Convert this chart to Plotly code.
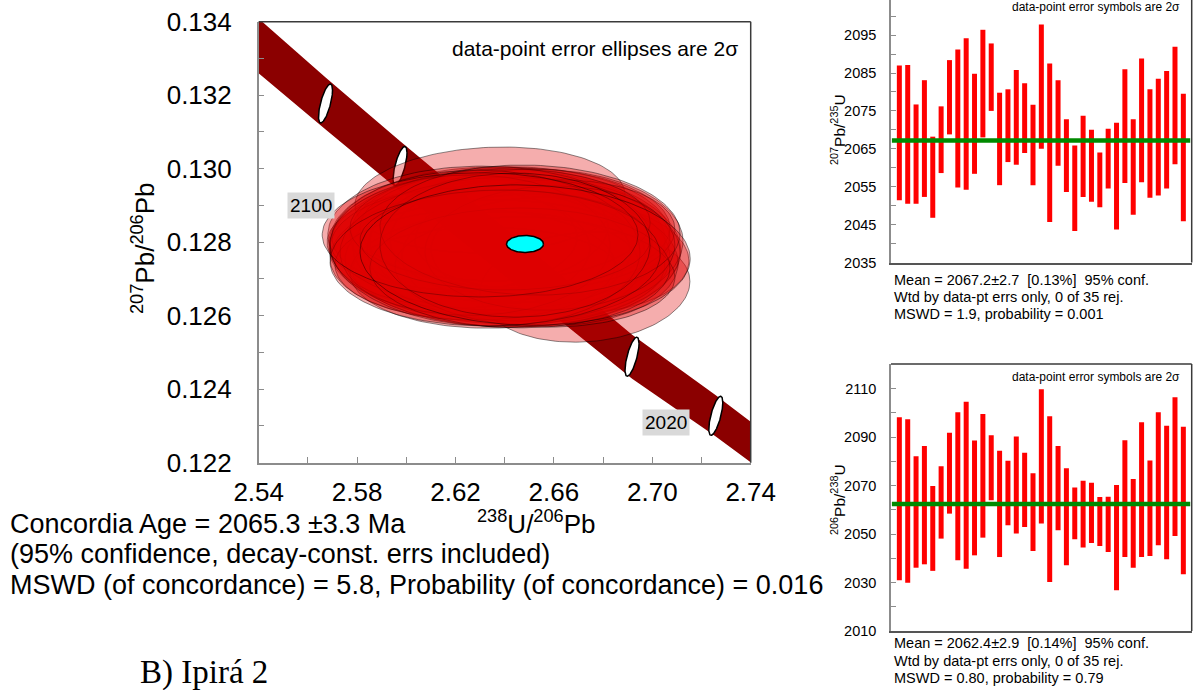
import numpy as np
import plotly.graph_objects as go

# ---------------- Tera-Wasserburg concordia: spot analyses ----------------
# 238U/206Pb, 207Pb/206Pb, 2-sigma errors and error correlation for each spot
spot_u238_pb206 = [2.6401, 2.6369, 2.6320, 2.6377, 2.6340, 2.6726, 2.6625, 2.6186, 2.6422, 2.6462,
                   2.6300, 2.6503, 2.6259, 2.6401, 2.6442, 2.6361, 2.6544, 2.6218, 2.6483, 2.6340,
                   2.6564, 2.6279, 2.6422, 2.6381, 2.6523, 2.6259, 2.6584, 2.6320, 2.6462, 2.6401,
                   2.6503, 2.6361, 2.6442, 2.6300, 2.6483]
spot_pb207_pb206 = [0.12787, 0.12795, 0.12724, 0.12776, 0.12915, 0.12678, 0.12765, 0.12806, 0.12820, 0.12779,
                    0.12765, 0.12806, 0.12828, 0.12746, 0.12839, 0.12724, 0.12752, 0.12784, 0.12792, 0.12811,
                    0.12820, 0.12738, 0.12773, 0.12847, 0.12719, 0.12792, 0.12784, 0.12784, 0.12730, 0.12806,
                    0.12833, 0.12757, 0.12792, 0.12820, 0.12765]
spot_err_x = [0.0715, 0.0683, 0.0541, 0.0594, 0.0549, 0.0427, 0.0524, 0.0508, 0.0650, 0.0610,
              0.0610, 0.0569, 0.0561, 0.0650, 0.0630, 0.0589, 0.0561, 0.0528, 0.0642, 0.0659,
              0.0528, 0.0569, 0.0691, 0.0610, 0.0569, 0.0569, 0.0508, 0.0630, 0.0610, 0.0589,
              0.0610, 0.0671, 0.0549, 0.0642, 0.0671]
spot_err_y = [0.00218, 0.00201, 0.00117, 0.00169, 0.00144, 0.00150, 0.00158, 0.00142, 0.00185, 0.00191,
              0.00177, 0.00169, 0.00158, 0.00169, 0.00163, 0.00158, 0.00180, 0.00163, 0.00207, 0.00196,
              0.00150, 0.00150, 0.00204, 0.00152, 0.00150, 0.00191, 0.00169, 0.00212, 0.00163, 0.00136,
              0.00177, 0.00185, 0.00196, 0.00169, 0.00191]
spot_rho = [-0.05, 0.05, 0.0, -0.05, 0.1, 0.1, -0.1, 0.05, 0.0, -0.1,
            0.05, 0.0, 0.1, -0.05, 0.0, 0.05, -0.05, 0.0, 0.05, -0.05,
            0.1, 0.0, 0.0, 0.05, -0.1, 0.0, 0.05, -0.05, 0.0, 0.0,
            -0.05, 0.05, 0.0, 0.0, -0.05]

# Concordia age point (centre and 2-sigma half widths)
conc_x, conc_y = 2.64825, 0.127951
conc_err_x, conc_err_y = 0.00752, 0.000231

# Concordia curve with decay-constant uncertainty band
band_x = [2.535, 2.5400, 2.5672, 2.5974, 2.6918, 2.7258, 2.7400, 2.745]
band_y = [0.133627, 0.133339, 0.131774, 0.130074, 0.124884, 0.123276, 0.122563, 0.122312]
band_half = [0.00075, 0.00074, 0.00071, 0.00068, 0.00060, 0.00056, 0.00055, 0.00055]

# Age ticks (Ma) on the concordia
tick_ages = [2120, 2100, 2040, 2020]
tick_age_x = [2.56716, 2.59744, 2.69175, 2.72581]
tick_age_y = [0.131774, 0.130074, 0.124884, 0.123276]
labelled_ages = [2100, 2020]
labelled_age_x = [2.5613, 2.7054]
labelled_age_y = [0.12901, 0.12309]

# ---------------- Weighted-mean panels ----------------
spot_no = list(range(1, 36))
age_207_235 = [2069.2, 2068.8, 2063.6, 2067.7, 2057.5, 2067.4, 2078.6, 2073.0, 2074.2, 2071.6,
               2082.2, 2083.9, 2067.6, 2071.1, 2073.3, 2073.1, 2066.0, 2081.4, 2066.6, 2071.8,
               2063.2, 2054.6, 2063.0, 2060.5, 2056.8, 2062.4, 2057.8, 2071.0, 2060.2, 2072.5,
               2066.4, 2068.1, 2070.0, 2076.4, 2062.7]
err_207_235 = [17.8, 18.3, 13.1, 15.4, 10.7, 8.8, 9.8, 18.2, 20.0, 13.2,
               14.2, 8.9, 12.2, 9.6, 12.5, 9.2, 10.6, 16.4, 20.9, 11.3,
               9.6, 11.3, 10.7, 9.5, 7.2, 7.9, 14.1, 15.0, 12.6, 16.3,
               14.3, 15.4, 15.5, 15.5, 16.8]
mean_207_235 = 2067.2

age_206_238 = [2064.5, 2063.6, 2059.1, 2061.9, 2052.3, 2063.0, 2075.1, 2069.7, 2070.1, 2064.9,
               2074.0, 2077.3, 2062.4, 2066.9, 2070.2, 2068.2, 2059.0, 2082.0, 2064.4, 2068.9,
               2057.1, 2058.5, 2058.2, 2058.7, 2055.2, 2054.0, 2048.5, 2064.6, 2054.4, 2068.3,
               2060.6, 2072.8, 2067.1, 2077.8, 2063.8]
err_206_238 = [33.6, 33.7, 23.0, 24.4, 17.5, 14.9, 16.7, 30.5, 34.4, 23.7,
               25.5, 13.4, 21.9, 13.3, 20.0, 15.3, 16.0, 27.7, 34.2, 17.4,
               20.0, 10.7, 13.8, 12.4, 10.1, 11.4, 21.7, 24.1, 18.3, 27.8,
               19.7, 27.4, 27.5, 28.6, 30.4]
mean_206_238 = 2062.4

W, H = 1196, 690


def px(xp):
    return xp / W


def py(yp):
    return (H - yp) / H


def ellipse(cx, cy, sx, sy, rho, n=160):
    t = np.linspace(0, 2 * np.pi, n)
    x = cx + sx * np.cos(t)
    y = cy + sy * (rho * np.cos(t) + np.sqrt(1 - rho ** 2) * np.sin(t))
    return x, y


fig = go.Figure()

# concordia band
bx = np.array(band_x)
by = np.array(band_y)
bh = np.array(band_half)
fig.add_trace(go.Scatter(
    x=np.concatenate([bx, bx[::-1]]), y=np.concatenate([by + bh, (by - bh)[::-1]]),
    fill="toself", fillcolor="#8b0000", line=dict(width=0), mode="lines",
    hoverinfo="skip", xaxis="x", yaxis="y"))

# age tick ellipses on the concordia
for ax_, ay_ in zip(tick_age_x, tick_age_y):
    ex, ey = ellipse(ax_, ay_, 0.00285, 0.000531, 0.68)
    fig.add_trace(go.Scatter(x=ex, y=ey, fill="toself", fillcolor="white", mode="lines",
                             line=dict(color="black", width=1.5), hoverinfo="skip",
                             xaxis="x", yaxis="y"))

# data-point error ellipses
for cx, cy, sx, sy, r in zip(spot_u238_pb206, spot_pb207_pb206, spot_err_x, spot_err_y, spot_rho):
    ex, ey = ellipse(cx, cy, sx, sy, r)
    fig.add_trace(go.Scatter(x=ex, y=ey, fill="toself", fillcolor="rgba(224,0,0,0.32)", mode="lines",
                             line=dict(color="rgba(0,0,0,0.45)", width=1), hoverinfo="skip",
                             xaxis="x", yaxis="y"))

# concordia age ellipse
ex, ey = ellipse(conc_x, conc_y, conc_err_x, conc_err_y, 0.0)
fig.add_trace(go.Scatter(x=ex, y=ey, fill="toself", fillcolor="#00ffff", mode="lines",
                         line=dict(color="black", width=1.5), hoverinfo="skip",
                         xaxis="x", yaxis="y"))

# weighted-mean error bars
for xa, ya, ages, errs in [("x2", "y2", age_207_235, err_207_235), ("x3", "y3", age_206_238, err_206_238)]:
    fig.add_trace(go.Scatter(
        x=spot_no, y=ages, mode="markers",
        marker=dict(size=1, color="rgba(0,0,0,0)"),
        error_y=dict(type="data", array=errs, symmetric=True, color="#ff0000", thickness=5, width=0),
        hoverinfo="skip", xaxis=xa, yaxis=ya))

grey = "#8c8c8c"
dark = "#3a3a3a"

main_tick = dict(ticks="inside", ticklen=6, tickcolor=grey, tickwidth=1.2, showgrid=False,
                 zeroline=False, showline=True, linecolor=grey, linewidth=1.5, automargin=False,
                 tickfont=dict(size=26, color="black"))
side_tick = dict(ticks="inside", ticklen=5, tickcolor=grey, tickwidth=1.2, showgrid=False,
                 zeroline=False, showline=True, linecolor=grey, linewidth=1.5, automargin=False,
                 tickfont=dict(size=14.5, color="black"))

fig.update_layout(
    width=W, height=H, autosize=False,
    margin=dict(l=0, r=0, t=0, b=0, pad=0, autoexpand=False),
    paper_bgcolor="white", plot_bgcolor="white", showlegend=False,
    font=dict(family="Liberation Sans, Arial, sans-serif", color="black"),
    xaxis=dict(domain=[px(258.7), px(750.7)], range=[2.54, 2.74], anchor="y",
               tick0=2.54, dtick=0.04, tickformat=".2f", ticklabelstandoff=5,
               minor=dict(dtick=0.02, ticks="inside", ticklen=6, tickcolor=grey),
               **main_tick),
    yaxis=dict(domain=[py(462.7), py(21.7)], range=[0.122, 0.134], anchor="x",
               tick0=0.122, dtick=0.002, tickformat=".3f", ticklabelstandoff=20,
               minor=dict(dtick=0.001, ticks="inside", ticklen=6, tickcolor=grey),
               **main_tick),
    xaxis2=dict(domain=[px(891), px(1191.7)], range=[0, 36], anchor="y2", automargin=False,
                showticklabels=False, ticks="", showgrid=False, zeroline=False,
                showline=True, linecolor="#555", linewidth=1.5),
    yaxis2=dict(domain=[py(262.5), 1.0], range=[2035, 2035 + 262.5 / 3.79], anchor="x2",
                tick0=2035, dtick=10, ticklabelstandoff=10,
                minor=dict(dtick=5, ticks="inside", ticklen=5, tickcolor=grey),
                **side_tick),
    xaxis3=dict(domain=[px(891), px(1191.7)], range=[0, 36], anchor="y3", automargin=False,
                showticklabels=False, ticks="", showgrid=False, zeroline=False,
                showline=True, linecolor="#555", linewidth=1.5),
    yaxis3=dict(domain=[py(631), py(364)], range=[2010, 2010 + 267 / 2.425], anchor="x3",
                tick0=2010, dtick=20, ticklabelstandoff=10,
                minor=dict(dtick=10, ticks="inside", ticklen=5, tickcolor=grey),
                **side_tick),
)

shapes = [
    # main frame: top and right edges
    dict(type="line", xref="x domain", yref="y domain", x0=0, x1=1, y0=1, y1=1,
         line=dict(color=dark, width=1.5)),
    dict(type="line", xref="x domain", yref="y domain", x0=1, x1=1, y0=0, y1=1,
         line=dict(color=dark, width=1.5)),
    # upper panel right edge
    dict(type="line", xref="x2 domain", yref="y2 domain", x0=1, x1=1, y0=0, y1=1,
         line=dict(color=dark, width=1.5)),
    # lower panel top and right edges
    dict(type="line", xref="x3 domain", yref="y3 domain", x0=0, x1=1, y0=1, y1=1,
         line=dict(color=dark, width=1.5)),
    dict(type="line", xref="x3 domain", yref="y3 domain", x0=1, x1=1, y0=0, y1=1,
         line=dict(color=dark, width=1.5)),
    # weighted means
    dict(type="line", xref="x2 domain", yref="y2", x0=0.003, x1=0.995,
         y0=mean_207_235, y1=mean_207_235, line=dict(color="#008a00", width=4.5)),
    dict(type="line", xref="x3 domain", yref="y3", x0=0.003, x1=0.995,
         y0=mean_206_238, y1=mean_206_238, line=dict(color="#008a00", width=4.5)),
]
fig.update_layout(shapes=shapes)

ann = []


def text(s, x, y, size, xanchor="center", yanchor="middle", angle=0, family=None, **kw):
    f = dict(size=size, color="black")
    if family:
        f["family"] = family
    ann.append(dict(text=s, x=px(x), y=py(y), xref="paper", yref="paper", showarrow=False,
                    xanchor=xanchor, yanchor=yanchor, textangle=angle, font=f, **kw))


# concordia age labels
for age, lx, ly in zip(labelled_ages, labelled_age_x, labelled_age_y):
    ann.append(dict(text=str(age), x=lx, y=ly, xref="x", yref="y", showarrow=False,
                    font=dict(size=19, color="black"), bgcolor="#d9d9d9", borderpad=2))

text("data-point error ellipses are 2σ", 740, 48, 21, xanchor="right")
text("<sup>207</sup>Pb/<sup>206</sup>Pb", 143, 248, 26, angle=-90)
text("<sup>238</sup>U/<sup>206</sup>Pb", 536, 522, 26)

text("Concordia Age = 2065.3 ±3.3 Ma", 8, 524, 27, xanchor="left")
text("(95% confidence, decay-const. errs included)", 8, 554, 27, xanchor="left")
text("MSWD (of concordance) = 5.8, Probability (of concordance) = 0.016", 8, 585, 27, xanchor="left")
text("B) Ipirá 2", 138, 672, 33, xanchor="left", family="Liberation Serif, Times New Roman, serif")

# side panels
text("data-point error symbols are 2σ", 1182, 7, 12, xanchor="right")
text("data-point error symbols are 2σ", 1182, 377, 12, xanchor="right")
text("<sup>207</sup>Pb/<sup>235</sup>U", 838, 130, 15.5, angle=-90)
text("<sup>206</sup>Pb/<sup>238</sup>U", 838, 500, 15.5, angle=-90)

nb = "\u00a0"
text(f"Mean = {mean_207_235}±2.7{nb}{nb}[0.13%]{nb}{nb}95% conf.", 891.5, 280, 14.5, xanchor="left")
text("Wtd by data-pt errs only, 0 of 35 rej.", 891.5, 297, 14.5, xanchor="left")
text("MSWD = 1.9, probability = 0.001", 891.5, 314, 14.5, xanchor="left")
text(f"Mean = {mean_206_238}±2.9{nb}{nb}[0.14%]{nb}{nb}95% conf.", 891.5, 643, 14.5, xanchor="left")
text("Wtd by data-pt errs only, 0 of 35 rej.", 891.5, 661, 14.5, xanchor="left")
text("MSWD = 0.80, probability = 0.79", 891.5, 678, 14.5, xanchor="left")

fig.update_layout(annotations=ann)

fig.write_html("out.html")
